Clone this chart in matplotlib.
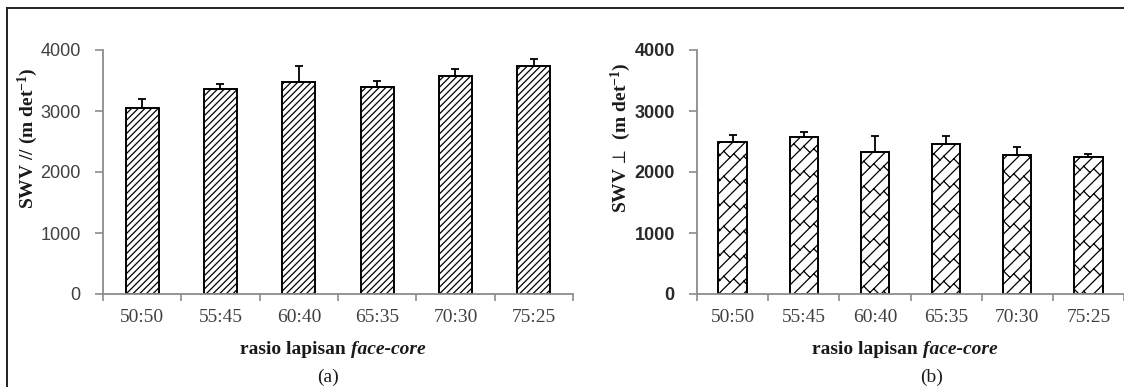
import warnings
import matplotlib
matplotlib.use("Agg")
import matplotlib.pyplot as plt
import matplotlib.hatch as mhatch
from matplotlib.lines import Line2D
from matplotlib.path import Path
import numpy as np

# Face-core layer ratio categories
ratios = ["50:50", "55:45", "60:40", "65:35", "70:30", "75:25"]

# Stress wave velocity parallel to grain (m/s) and its standard deviation
swv_parallel = [3050, 3360, 3470, 3390, 3570, 3740]
swv_parallel_sd = [150, 85, 265, 105, 115, 105]

# Stress wave velocity perpendicular to grain (m/s) and its standard deviation
swv_perp = [2500, 2570, 2330, 2460, 2280, 2250]
swv_perp_sd = [100, 80, 265, 130, 130, 50]

yticks = [0, 1000, 2000, 3000, 4000]


class DiagonalBrickHatch(mhatch.HatchPatternBase):
    """Bricks laid at 45 degrees: long '/' courses with staggered '\\' joints."""

    ROWS = 8       # '/' courses per hatch unit
    JOINTS = 5     # joints per course per hatch unit

    def __init__(self, hatch, density):
        self.active = "b" in hatch
        self.segments = self._build() if self.active else []
        self.num_vertices = 2 * len(self.segments)
        self.filled = False

    def _build(self):
        n, m = self.ROWS, self.JOINTS
        segs = []
        # continuous courses y = x + c
        for k in range(-n, n + 1):
            c = k / n
            segs.append(((-0.1, -0.1 + c), (1.1, 1.1 + c)))
        # staggered joints between course c and c + 1/n
        half = 1.0 / (2 * n)
        for k in range(-2 * n, 2 * n + 1):
            c = k / n
            offset = 0.5 / m if k % 2 else 0.0
            for j in range(-2 * m, 2 * m + 1):
                x0 = j / m + offset
                p0 = (x0, x0 + c)
                p1 = (x0 - half, x0 + c + half)
                xs = (p0[0], p1[0])
                ys = (p0[1], p1[1])
                if max(xs) < -0.05 or min(xs) > 1.05 or max(ys) < -0.05 or min(ys) > 1.05:
                    continue
                segs.append((p0, p1))
        return segs

    def set_vertices_and_codes(self, vertices, codes):
        for i, (p0, p1) in enumerate(self.segments):
            vertices[2 * i] = p0
            vertices[2 * i + 1] = p1
            codes[2 * i] = Path.MOVETO
            codes[2 * i + 1] = Path.LINETO


mhatch._hatch_types.append(DiagonalBrickHatch)
warnings.filterwarnings("ignore", message=".*hatch.*")

W, H = 1124, 387
DPI = 100
plt.rcParams["hatch.linewidth"] = 0.9
plt.rcParams["mathtext.fontset"] = "custom"
plt.rcParams["mathtext.rm"] = "Liberation Serif:bold"
plt.rcParams["mathtext.bf"] = "Liberation Serif:bold"
plt.rcParams["mathtext.it"] = "Liberation Serif:italic:bold"
fig = plt.figure(figsize=(W / DPI, H / DPI), dpi=DPI)

SERIF = ["Liberation Serif", "DejaVu Serif"]
SANS = ["Liberation Sans", "DejaVu Sans"]
AXIS_GREY = "#8c8c8c"
TEXT_GREY = "#404040"
INK = "#1a1a1a"

Y0, Y4000 = 294, 50


def px_axes(left, right):
    return fig.add_axes([left / W, 1 - Y0 / H, (right - left) / W, (Y0 - Y4000) / H])


def panel(ax, left, right, values, errs, hatch, bar_w, ylabel, ytick_style, ylabel_xy):
    x = np.arange(len(ratios))
    ax.bar(x, values, width=bar_w, color="white", edgecolor="black",
           linewidth=1.4, hatch=hatch, zorder=2)
    ax.errorbar(x, values, yerr=[np.zeros(len(errs)), errs], fmt="none",
                ecolor="black", elinewidth=1.3, capsize=3, capthick=1.3, zorder=3)
    ax.set_xlim(-0.5, len(ratios) - 0.5)
    ax.set_ylim(0, 4000)
    ax.set_yticks(yticks)
    weight, colour = ytick_style
    ax.set_yticklabels([str(v) for v in yticks], family=SANS, fontsize=13,
                       color=colour, fontweight=weight)
    ax.set_xticks(x)
    ax.set_xticklabels(ratios, family=SERIF, fontsize=14, color=TEXT_GREY)
    ax.set_xticks(np.arange(len(ratios) + 1) - 0.5, minor=True)
    ax.tick_params(axis="x", which="major", length=0, pad=11)
    ax.tick_params(axis="x", which="minor", length=5, width=1.2, color=AXIS_GREY,
                   direction="out")
    ax.tick_params(axis="y", length=6, width=1.2, color=AXIS_GREY, direction="out", pad=10)
    for s in ("top", "right"):
        ax.spines[s].set_visible(False)
    for s in ("left", "bottom"):
        ax.spines[s].set_color(AXIS_GREY)
        ax.spines[s].set_linewidth(1.3)
    ax.set_facecolor("none")
    ax.set_ylabel(ylabel, family=SERIF, fontsize=14, fontweight="bold", color=INK)
    lx, ly = ylabel_xy
    ax.yaxis.set_label_coords((lx - left) / (right - left), (Y0 - ly) / (Y0 - Y4000))


L1, R1 = 103, 573
ax1 = px_axes(L1, R1)
panel(ax1, L1, R1, swv_parallel, swv_parallel_sd, "/////", 0.42,
      r"SWV // (m det$^{-1}$)", ("normal", TEXT_GREY), (40, 138))

L2, R2 = 697, 1124
ax2 = px_axes(L2, R2)
panel(ax2, L2, R2, swv_perp, swv_perp_sd, "b", 0.40,
      r"SWV$\,\perp\,$ (m det$^{-1}$)", ("bold", "#2a2a2a"), (633, 138))


def face_core_label(cx, cy):
    # bold upright words followed by a bold-italic term, centred on cx
    renderer = fig.canvas.get_renderer()
    t1 = fig.text(0, cy / H, "rasio lapisan ", family=SERIF, fontsize=14,
                  fontweight="bold", va="center", ha="left", color=INK)
    t2 = fig.text(0, cy / H, "face-core", family=SERIF, fontsize=14,
                  fontweight="bold", style="italic", va="center", ha="left", color=INK)
    w1 = t1.get_window_extent(renderer).width
    w2 = t2.get_window_extent(renderer).width
    x0 = cx - (w1 + w2) / 2
    t1.set_x(x0 / W)
    t2.set_x((x0 + w1) / W)


face_core_label(333, H - 350)
face_core_label(905, H - 350)
fig.text(328 / W, 1 - 377 / H, "(a)", family=SERIF, fontsize=14, ha="center", va="center",
         color=INK)
fig.text(932 / W, 1 - 377 / H, "(b)", family=SERIF, fontsize=14, ha="center", va="center",
         color=INK)

# outer frame along the top and left edges
fig.add_artist(Line2D([7 / W, 7 / W], [0, 1 - 8 / H], transform=fig.transFigure,
                      color="#222222", linewidth=1.4))
fig.add_artist(Line2D([7 / W, 1], [1 - 8 / H, 1 - 8 / H], transform=fig.transFigure,
                      color="#222222", linewidth=1.4))

fig.savefig("out.png", dpi=DPI)
